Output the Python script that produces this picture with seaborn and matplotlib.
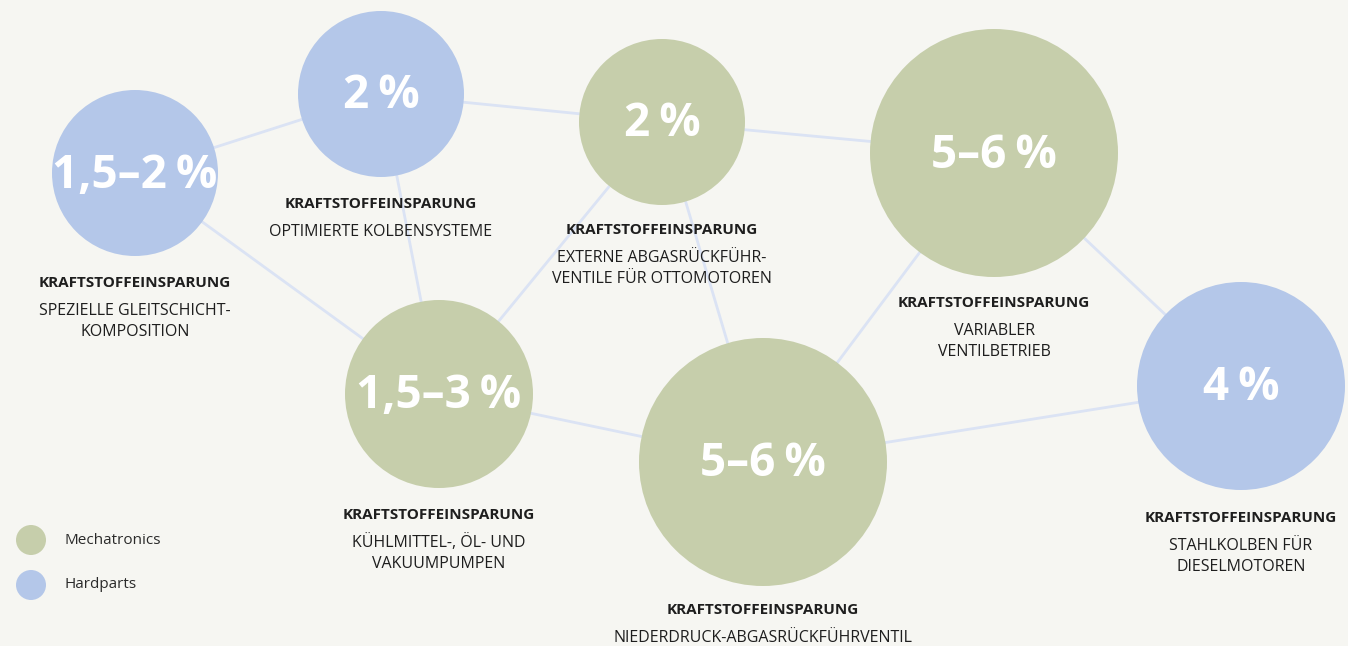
import matplotlib
matplotlib.use("Agg")
import matplotlib.pyplot as plt
import seaborn as sns
import pandas as pd

# ---- data ----
values = ["1,5–2\u2009%", "2\u2009%", "2\u2009%", "5–6\u2009%", "4\u2009%",
          "1,5–3\u2009%", "5–6\u2009%"]
groups = ["Hardparts", "Hardparts", "Mechatronics", "Mechatronics",
          "Hardparts", "Mechatronics", "Mechatronics"]
titles = ["KRAFTSTOFFEINSPARUNG"] * 7
descriptions = [
    "SPEZIELLE GLEITSCHICHT-\nKOMPOSITION",
    "OPTIMIERTE KOLBENSYSTEME",
    "EXTERNE ABGASRÜCKFÜHR-\nVENTILE FÜR OTTOMOTOREN",
    "VARIABLER\nVENTILBETRIEB",
    "STAHLKOLBEN FÜR\nDIESELMOTOREN",
    "KÜHLMITTEL-, ÖL- UND\nVAKUUMPUMPEN",
    "NIEDERDRUCK-ABGASRÜCKFÜHRVENTIL",
]
links = [(0, 1), (0, 5), (1, 2), (1, 5), (2, 3), (2, 5), (2, 6),
         (3, 6), (3, 4), (5, 6), (6, 4)]
legend_labels = ["Mechatronics", "Hardparts"]

# ---- layout (pixel space) ----
node_x = [135, 381, 662, 994, 1241, 439, 763]
node_y = [173, 94, 122, 153, 386, 394, 462]
node_r = [83, 83, 83, 124, 104, 94, 124]
label_y = [283, 204, 230, 303, 518, 515, 610]

palette = {"Mechatronics": "#c6ceab", "Hardparts": "#b4c7e9"}
BG = "#f6f6f2"
LINK = "#dbe3f4"
TXT = "#1e1e1e"

W, H, DPI = 1348, 646, 100
sns.set_theme(style="white")
plt.rcParams["font.family"] = ["Open Sans", "DejaVu Sans"]

fig = plt.figure(figsize=(W / DPI, H / DPI), dpi=DPI, facecolor=BG)
ax = fig.add_axes([0, 0, 1, 1])
ax.set_facecolor(BG)
ax.set_xlim(0, W)
ax.set_ylim(H, 0)
ax.axis("off")

for a, b in links:
    ax.plot([node_x[a], node_x[b]], [node_y[a], node_y[b]],
            color=LINK, lw=2.0, zorder=1, solid_capstyle="butt")

pt = 72 / DPI
df = pd.DataFrame({
    "x": node_x, "y": node_y, "group": groups,
    "s": [(2 * r * pt) ** 2 for r in node_r],
})
sns.scatterplot(data=df, x="x", y="y", hue="group", palette=palette,
                size="s", sizes={v: v for v in df["s"]}, linewidth=0,
                legend=False, ax=ax, zorder=2, alpha=1)

for i in range(len(values)):
    ax.text(node_x[i], node_y[i] + 2, values[i], ha="center", va="center",
            color="white", fontsize=33, fontweight="bold", zorder=3)
    ax.text(node_x[i], label_y[i], titles[i], ha="center", va="center",
            color=TXT, fontsize=11, fontweight="bold", zorder=3)
    lines = descriptions[i].split("\n")
    for j, line in enumerate(lines):
        ax.text(node_x[i], label_y[i] + 28 + 21 * j, line, ha="center",
                va="center", color=TXT, fontsize=11.5, zorder=3)

# legend
leg_df = pd.DataFrame({"x": [31, 31], "y": [540, 585], "group": legend_labels})
sns.scatterplot(data=leg_df, x="x", y="y", hue="group", palette=palette,
                s=(30 * pt) ** 2, linewidth=0, legend=False, ax=ax, zorder=2)
for yy, lab in zip([540, 585], legend_labels):
    ax.text(64, yy, lab, ha="left", va="center", color="#2a2a2a", fontsize=11)

fig.savefig("out.png", dpi=DPI, facecolor=BG)
